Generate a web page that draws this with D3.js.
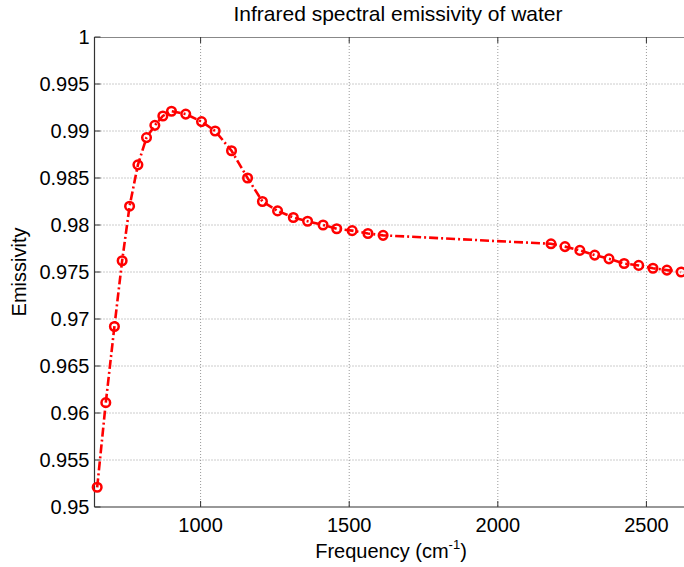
<!DOCTYPE html>
<html>
<head>
<meta charset="utf-8">
<script src="https://cdn.jsdelivr.net/npm/d3@7"></script>
<style>
  body { margin: 0; background: #fff; }
  svg { display: block; font-family: "Liberation Sans", Arial, sans-serif; }
</style>
</head>
<body>
<div id="chart"></div>
<script>
// frequency (cm^-1) and emissivity
const freq = [652, 681, 710, 736, 761, 789, 818, 846, 873, 902, 950, 1003, 1049, 1104,
  1158, 1208, 1259, 1312, 1360, 1412, 1458, 1510, 1563, 1614,
  2179, 2226, 2276, 2326, 2374, 2425, 2474, 2522, 2569, 2617]
const emis = [0.9521, 0.9611, 0.9692, 0.9762, 0.9820, 0.9864, 0.9893, 0.9906, 0.9916, 0.9921,
  0.9918, 0.9910, 0.9900, 0.9879, 0.9850, 0.9825, 0.9815, 0.9808, 0.9804, 0.9800,
  0.9796, 0.9794, 0.9791, 0.9789,
  0.9780, 0.9777, 0.9773, 0.9768, 0.9764, 0.9759, 0.9757, 0.9754, 0.9752, 0.9750]

const xTicks = [1000, 1500, 2000, 2500]
const yTicks = [0.95, 0.955, 0.96, 0.965, 0.97, 0.975, 0.98, 0.985, 0.99, 0.995, 1]
const yTickLabels = ['0.95', '0.955', '0.96', '0.965', '0.97', '0.975', '0.98', '0.985', '0.99', '0.995', '1']

const width = 684, height = 567
const padding = { top: 37, left: 94.5, bottom: 60, right: -7 }
const innerW = width - padding.left - padding.right
const innerH = height - padding.top - padding.bottom

const svg = d3.select('#chart').append('svg')
  .attr('width', width)
  .attr('height', height)

const x = d3.scaleLinear().domain([643, 2650]).range([0, innerW])
const y = d3.scaleLinear().domain([0.95, 1]).range([innerH, 0])

const g = svg.append('g')
  .attr('transform', 'translate(' + padding.left + ',' + padding.top + ')')

// grid (dotted)
g.append('g').selectAll('line').data(xTicks).enter().append('line')
  .attr('x1', d => x(d)).attr('x2', d => x(d))
  .attr('y1', 0).attr('y2', innerH)
  .attr('stroke', '#999').attr('stroke-width', 1).attr('stroke-dasharray', '1,2')
g.append('g').selectAll('line').data(yTicks.slice(1, -1)).enter().append('line')
  .attr('x1', 0).attr('x2', innerW)
  .attr('y1', d => y(d)).attr('y2', d => y(d))
  .attr('stroke', '#999').attr('stroke-width', 1).attr('stroke-dasharray', '1,2')

// box (top + left + bottom)
g.append('line').attr('x1', 0).attr('x2', innerW).attr('y1', 0.5).attr('y2', 0.5)
  .attr('stroke', '#888').attr('stroke-width', 1.2)
g.append('line').attr('x1', 0).attr('x2', innerW).attr('y1', innerH).attr('y2', innerH)
  .attr('stroke', '#333').attr('stroke-width', 1.2)
g.append('line').attr('x1', 0).attr('x2', 0).attr('y1', 0).attr('y2', innerH)
  .attr('stroke', '#333').attr('stroke-width', 1.2)

// inward ticks
g.append('g').selectAll('line').data(xTicks).enter().append('line')
  .attr('x1', d => x(d)).attr('x2', d => x(d)).attr('y1', innerH).attr('y2', innerH - 6)
  .attr('stroke', '#333')
g.append('g').selectAll('line').data(xTicks).enter().append('line')
  .attr('x1', d => x(d)).attr('x2', d => x(d)).attr('y1', 0).attr('y2', 6)
  .attr('stroke', '#333')
g.append('g').selectAll('line').data(yTicks).enter().append('line')
  .attr('x1', 0).attr('x2', 6).attr('y1', d => y(d)).attr('y2', d => y(d))
  .attr('stroke', '#333')

// tick labels
g.append('g').selectAll('text').data(yTicks).enter().append('text')
  .attr('x', -5).attr('y', d => y(d)).attr('dy', '0.36em')
  .attr('text-anchor', 'end').attr('font-size', 20).attr('fill', '#000')
  .text((d, i) => yTickLabels[i])
g.append('g').selectAll('text').data(xTicks).enter().append('text')
  .attr('x', d => x(d)).attr('y', innerH + 25)
  .attr('text-anchor', 'middle').attr('font-size', 20).attr('fill', '#000')
  .text(d => d)

// series
const pts = freq.map((f, i) => ({ f, e: emis[i] }))
const line = d3.line().x(d => x(d.f)).y(d => y(d.e))
g.append('path').datum(pts)
  .attr('d', line)
  .attr('fill', 'none').attr('stroke', '#ff0000').attr('stroke-width', 2.6)
  .attr('stroke-dasharray', '9,3,2,3')
g.append('g').selectAll('circle').data(pts).enter().append('circle')
  .attr('cx', d => x(d.f)).attr('cy', d => y(d.e)).attr('r', 4.3)
  .attr('fill', 'none').attr('stroke', '#ff0000').attr('stroke-width', 2.5)

// labels
svg.append('text').attr('x', 398).attr('y', 21)
  .attr('text-anchor', 'middle').attr('font-size', 21).text('Infrared spectral emissivity of water')
const xlab = svg.append('text').attr('x', 391).attr('y', 558)
  .attr('text-anchor', 'middle').attr('font-size', 20)
xlab.append('tspan').text('Frequency (cm')
xlab.append('tspan').attr('font-size', 13).attr('dy', -9).text('-1')
xlab.append('tspan').attr('dy', 9).text(')')
svg.append('text').attr('transform', 'translate(26,272) rotate(-90)')
  .attr('text-anchor', 'middle').attr('font-size', 20).text('Emissivity')
</script>
</body>
</html>
